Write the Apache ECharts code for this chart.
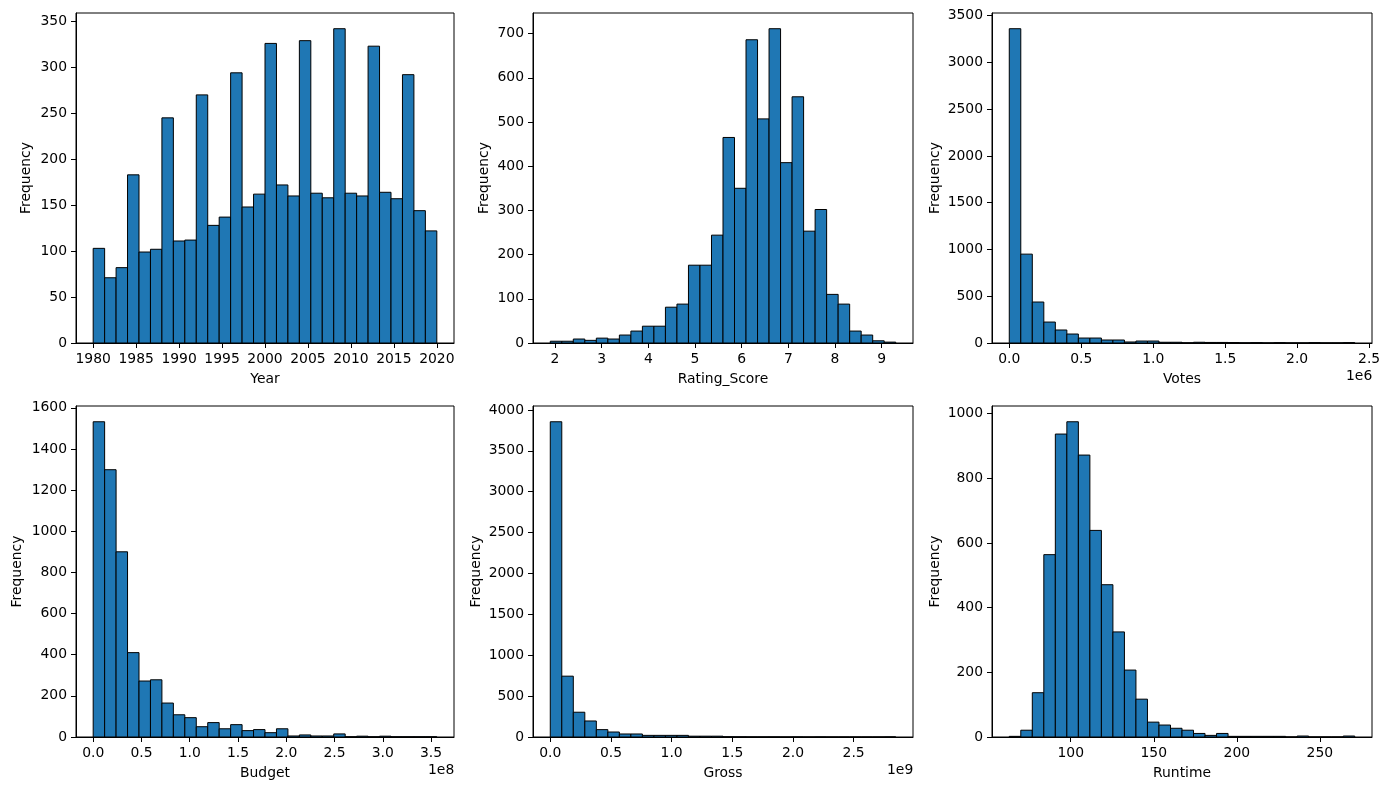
<!DOCTYPE html>
<html>
<head>
<meta charset="utf-8">
<script src="https://cdn.jsdelivr.net/npm/echarts@6.0.0/dist/echarts.min.js"></script>
<style>
html, body { margin: 0; padding: 0; background: #fff; }
#main { width: 1389px; height: 789px; }
</style>
</head>
<body>
<div id="main"></div>
<script>
// histogram data, 30 bins each: [lowest edge, highest edge] and counts
const yearRange = [1980, 2020]
const yearCounts = [103, 71, 82, 183, 99, 102, 245, 111, 112, 270, 128, 137, 294, 148, 162,
  326, 172, 160, 329, 163, 158, 342, 163, 160, 323, 164, 157, 292, 144, 122]

const ratingRange = [1.9, 9.3]
const ratingCounts = [4, 4, 9, 6, 11, 9, 18, 27, 38, 38, 81, 88, 176, 176, 244,
  465, 350, 686, 507, 711, 408, 557, 253, 302, 110, 88, 27, 18, 5, 2]

const votesRange = [7, 2.4e6]
const votesCounts = [3360, 950, 438, 224, 139, 96, 53, 53, 32, 32, 11, 21, 21, 8, 8,
  2, 8, 6, 6, 5, 2, 4, 1, 4, 1, 1, 4, 1, 1, 4]

const budgetRange = [3000, 3.56e8]
const budgetCounts = [1532, 1299, 900, 410, 272, 278, 165, 108, 94, 50, 70, 40, 60, 31, 36,
  21, 40, 5, 10, 5, 5, 15, 1, 4, 1, 4, 1, 1, 1, 1]

const grossRange = [300, 2.847e9]
const grossCounts = [3855, 744, 303, 196, 90, 61, 37, 37, 20, 20, 20, 20, 10, 10, 10,
  3, 2, 1, 1, 1, 0, 1, 0, 1, 0, 0, 0, 0, 0, 1]

const runtimeRange = [63, 271]
const runtimeCounts = [2, 21, 137, 564, 937, 975, 872, 639, 471, 325, 207, 117, 46, 37, 27,
  21, 11, 5, 11, 2, 2, 2, 2, 2, 0, 3, 0, 0, 0, 3]

// tick labels
const yearTicks = [1980, 1985, 1990, 1995, 2000, 2005, 2010, 2015, 2020]
const ratingTicks = [2, 3, 4, 5, 6, 7, 8, 9]
const votesTicks = [0, 0.5e6, 1.0e6, 1.5e6, 2.0e6, 2.5e6]
const budgetTicks = [0, 0.5e8, 1.0e8, 1.5e8, 2.0e8, 2.5e8, 3.0e8, 3.5e8]
const grossTicks = [0, 0.5e9, 1.0e9, 1.5e9, 2.0e9, 2.5e9]
const runtimeTicks = [100, 150, 200, 250]

const yearFreqTicks = [0, 50, 100, 150, 200, 250, 300, 350]
const ratingFreqTicks = [0, 100, 200, 300, 400, 500, 600, 700]
const votesFreqTicks = [0, 500, 1000, 1500, 2000, 2500, 3000, 3500]
const budgetFreqTicks = [0, 200, 400, 600, 800, 1000, 1200, 1400, 1600]
const grossFreqTicks = [0, 500, 1000, 1500, 2000, 2500, 3000, 3500, 4000]
const runtimeFreqTicks = [0, 200, 400, 600, 800, 1000]

const panels = [
  { name: 'Year', range: yearRange, counts: yearCounts, xt: yearTicks, yt: yearFreqTicks,
    grid: { left: 76, top: 13, width: 378, height: 330 }, gap: 43 },
  { name: 'Rating_Score', range: ratingRange, counts: ratingCounts, xt: ratingTicks, yt: ratingFreqTicks,
    grid: { left: 533, top: 13, width: 380, height: 330 }, gap: 42 },
  { name: 'Votes', range: votesRange, counts: votesCounts, xt: votesTicks, yt: votesFreqTicks,
    grid: { left: 992, top: 13, width: 380, height: 330 }, gap: 50, scale: 1e6, offset: '1e6' },
  { name: 'Budget', range: budgetRange, counts: budgetCounts, xt: budgetTicks, yt: budgetFreqTicks,
    grid: { left: 76, top: 406, width: 378, height: 331 }, gap: 52, scale: 1e8, offset: '1e8' },
  { name: 'Gross', range: grossRange, counts: grossCounts, xt: grossTicks, yt: grossFreqTicks,
    grid: { left: 533, top: 406, width: 380, height: 331 }, gap: 50, scale: 1e9, offset: '1e9' },
  { name: 'Runtime', range: runtimeRange, counts: runtimeCounts, xt: runtimeTicks, yt: runtimeFreqTicks,
    grid: { left: 992, top: 406, width: 380, height: 331 }, gap: 50 }
]

const font = 'DejaVu Sans'
const fs = 13.9

const grids = [], xAxes = [], yAxes = [], series = [], graphics = []

panels.forEach((p, i) => {
  const [lo, hi] = p.range
  const n = p.counts.length
  const w = (hi - lo) / n
  const bins = p.counts.map((c, k) => [lo + k * w, lo + (k + 1) * w, c])
  const pad = (hi - lo) * 0.05
  const ymax = Math.max(...p.counts) * 1.05

  grids.push({ ...p.grid, show: true, borderColor: '#000', borderWidth: 1, backgroundColor: '#fff' })

  xAxes.push({
    gridIndex: i, type: 'value', min: lo - pad, max: hi + pad,
    name: p.name, nameLocation: 'middle', nameGap: 29,
    nameTextStyle: { color: '#000', fontFamily: font, fontSize: fs },
    axisLine: { show: true, onZero: false, lineStyle: { color: '#000', width: 1 } },
    axisTick: { show: true, length: 5, customValues: p.xt, lineStyle: { color: '#000' } },
    axisLabel: {
      color: '#000', fontFamily: font, fontSize: fs, margin: 9, customValues: p.xt,
      formatter: v => p.scale ? (v / p.scale).toFixed(1) : String(Math.round(v))
    },
    splitLine: { show: false }
  })

  yAxes.push({
    gridIndex: i, type: 'value', min: 0, max: ymax,
    name: 'Frequency', nameLocation: 'middle', nameGap: p.gap,
    nameTextStyle: { color: '#000', fontFamily: font, fontSize: fs },
    axisLine: { show: true, onZero: false, lineStyle: { color: '#000', width: 1 } },
    axisTick: { show: true, length: 5, customValues: p.yt, lineStyle: { color: '#000' } },
    axisLabel: {
      color: '#000', fontFamily: font, fontSize: fs, margin: 9, customValues: p.yt,
      formatter: v => String(Math.round(v))
    },
    splitLine: { show: false }
  })

  series.push({
    type: 'custom', xAxisIndex: i, yAxisIndex: i, data: bins,
    encode: { x: [0, 1], y: 2 },
    clip: true,
    renderItem: (params, api) => {
      const a = api.coord([api.value(0), api.value(2)])
      const b = api.coord([api.value(1), 0])
      return {
        type: 'rect',
        shape: { x: a[0], y: a[1], width: b[0] - a[0], height: b[1] - a[1] },
        style: { fill: '#1f77b4', stroke: '#000', lineWidth: 1 }
      }
    }
  })

  if (p.offset) {
    graphics.push({
      type: 'text',
      left: p.grid.left + p.grid.width - 26,
      top: p.grid.top + p.grid.height + 26,
      style: { text: p.offset, fill: '#000', font: fs + 'px "' + font + '"' }
    })
  }
})

const chart = echarts.init(document.getElementById('main'))
chart.setOption({
  backgroundColor: '#fff',
  animation: false,
  grid: grids,
  xAxis: xAxes,
  yAxis: yAxes,
  series: series,
  graphic: graphics
})
</script>
</body>
</html>
